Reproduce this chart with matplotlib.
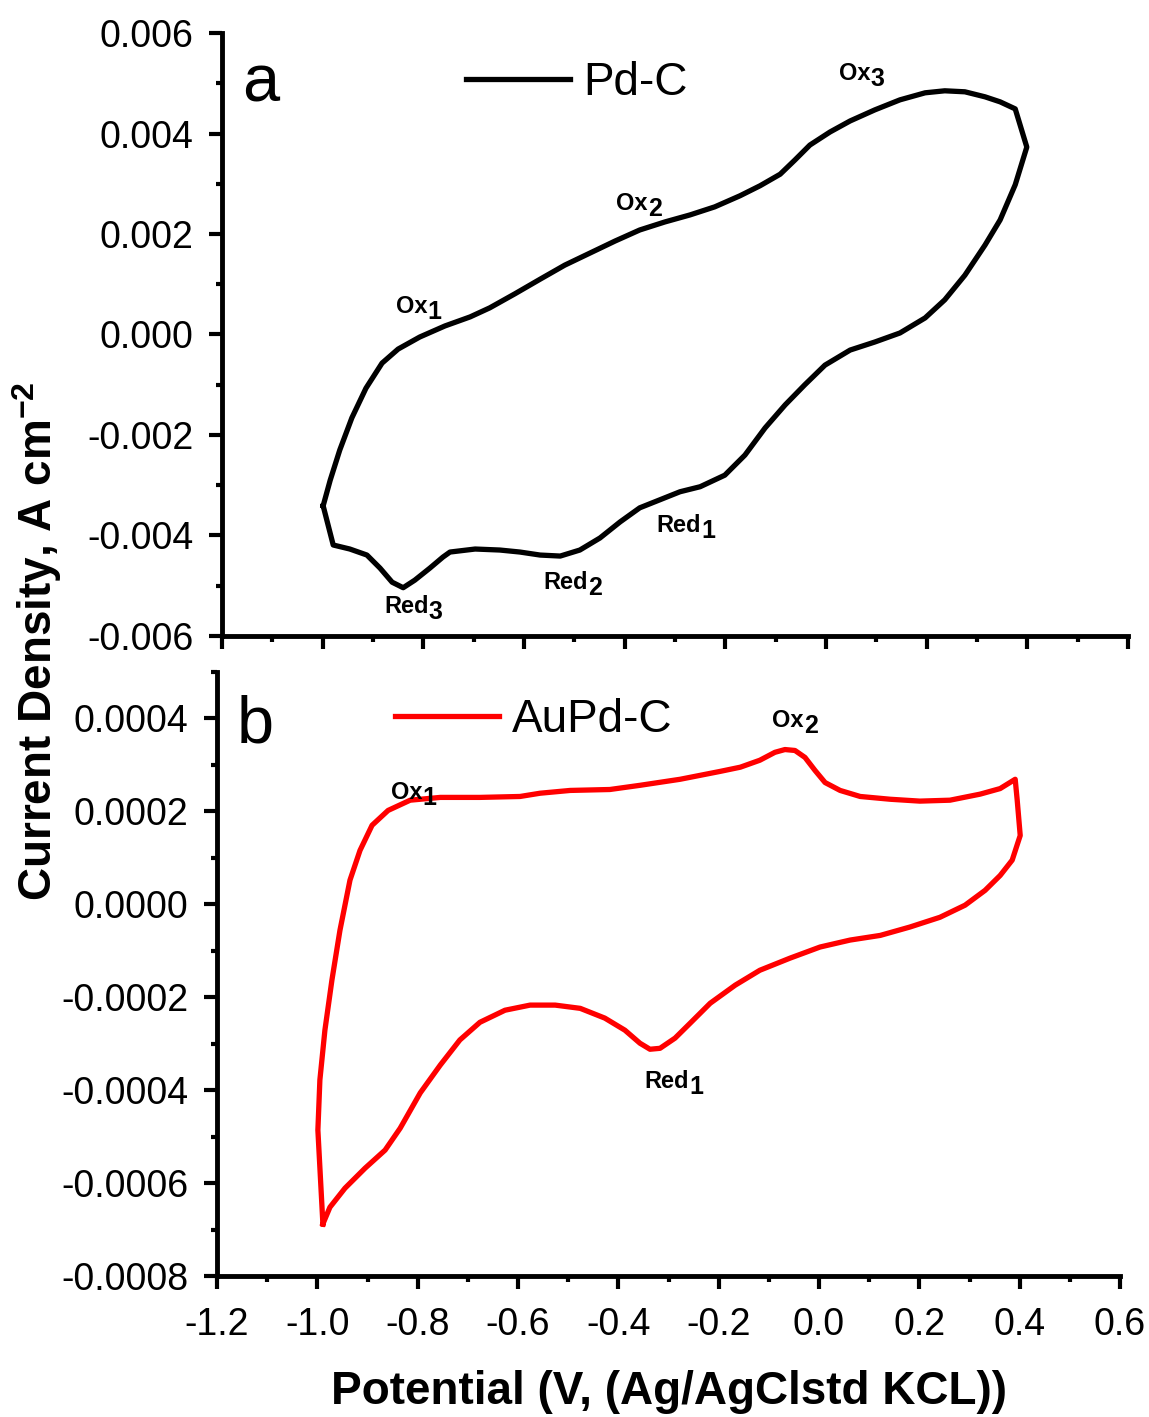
import matplotlib
matplotlib.use("Agg")
import matplotlib.pyplot as plt
from matplotlib.ticker import MultipleLocator, FormatStrFormatter

plt.rcParams['font.family'] = ['Liberation Sans', 'DejaVu Sans']
plt.rcParams['axes.unicode_minus'] = False
plt.rcParams['mathtext.fontset'] = 'custom'
plt.rcParams['mathtext.rm'] = 'Liberation Sans'
plt.rcParams['mathtext.bf'] = 'Liberation Sans:bold'

# Pd-C cyclic voltammogram (V, A cm-2), anodic then cathodic sweep
pdc_v = [-0.999, -0.985, -0.966, -0.942, -0.914, -0.882, -0.850, -0.807, -0.757, -0.707,
         -0.668, -0.618, -0.568, -0.519, -0.469, -0.419, -0.370, -0.320, -0.270, -0.221,
         -0.171, -0.131, -0.091, -0.062, -0.032, 0.008, 0.048, 0.097, 0.147, 0.197,
         0.236, 0.276, 0.316, 0.346, 0.376, 0.399,
         0.376, 0.346, 0.316, 0.276, 0.236, 0.197, 0.147, 0.097, 0.048, -0.002,
         -0.042, -0.081, -0.121, -0.161, -0.201, -0.250, -0.290, -0.330, -0.370, -0.409,
         -0.449, -0.489, -0.528, -0.568, -0.608, -0.648, -0.697, -0.747, -0.761, -0.787,
         -0.817, -0.840, -0.862, -0.886, -0.912, -0.946, -0.979, -0.999]
pdc_j = [-0.00341, -0.00290, -0.00230, -0.00166, -0.00107, -0.00057, -0.00029, -0.00005, 0.00017, 0.00035,
         0.00053, 0.00081, 0.00110, 0.00138, 0.00162, 0.00186, 0.00208, 0.00224, 0.00238, 0.00254,
         0.00276, 0.00296, 0.00319, 0.00347, 0.00377, 0.00403, 0.00425, 0.00447, 0.00467, 0.00481,
         0.00485, 0.00483, 0.00473, 0.00463, 0.00449, 0.00373,
         0.00298, 0.00228, 0.00178, 0.00118, 0.00069, 0.00033, 0.00003, -0.00015, -0.00031, -0.00061,
         -0.00100, -0.00140, -0.00186, -0.00240, -0.00280, -0.00303, -0.00313, -0.00329, -0.00345, -0.00373,
         -0.00405, -0.00429, -0.00441, -0.00439, -0.00433, -0.00429, -0.00427, -0.00433, -0.00443, -0.00465,
         -0.00489, -0.00504, -0.00493, -0.00465, -0.00439, -0.00427, -0.00419, -0.00341]

# AuPd-C cyclic voltammogram
aupd_v = [-0.989, -0.999, -0.995, -0.985, -0.971, -0.955, -0.935, -0.915, -0.891, -0.859,
          -0.815, -0.755, -0.676, -0.596, -0.556, -0.496, -0.417, -0.357, -0.277, -0.197,
          -0.157, -0.118, -0.088, -0.068, -0.048, -0.028, -0.008, 0.012, 0.042, 0.082,
          0.142, 0.201, 0.261, 0.321, 0.361, 0.391, 0.395, 0.401,
          0.385, 0.361, 0.331, 0.291, 0.241, 0.181, 0.122, 0.062, 0.002, -0.058,
          -0.118, -0.167, -0.217, -0.257, -0.287, -0.317, -0.337, -0.357, -0.387, -0.427,
          -0.476, -0.526, -0.576, -0.626, -0.676, -0.716, -0.755, -0.795, -0.835, -0.865,
          -0.905, -0.945, -0.975, -0.989]
aupd_j = [-0.000688, -0.000486, -0.000378, -0.000271, -0.000163, -0.000056, 0.000052, 0.000116, 0.000170, 0.000202,
          0.000224, 0.000230, 0.000230, 0.000232, 0.000239, 0.000245, 0.000247, 0.000256, 0.000269, 0.000286,
          0.000295, 0.000310, 0.000327, 0.000333, 0.000331, 0.000316, 0.000288, 0.000262, 0.000245, 0.000232,
          0.000226, 0.000222, 0.000224, 0.000237, 0.000249, 0.000269, 0.000224, 0.000148,
          0.000095, 0.000062, 0.000030, -0.000002, -0.000028, -0.000049, -0.000067, -0.000077, -0.000092, -0.000116,
          -0.000142, -0.000174, -0.000213, -0.000256, -0.000288, -0.000310, -0.000312, -0.000299, -0.000271, -0.000245,
          -0.000224, -0.000217, -0.000217, -0.000228, -0.000254, -0.000292, -0.000346, -0.000406, -0.000482, -0.000529,
          -0.000568, -0.000611, -0.000652, -0.000688]

# peak labels: (main, subscript, x, y)
pdc_peaks = [("Ox", "1", -0.791, 0.00055), ("Ox", "2", -0.354, 0.0026), ("Ox", "3", 0.089, 0.00520),
             ("Red", "1", -0.248, -0.00381), ("Red", "2", -0.473, -0.00494), ("Red", "3", -0.789, -0.00542)]
aupd_peaks = [("Ox", "1", -0.791, 0.000241), ("Ox", "2", -0.030, 0.000396), ("Red", "1", -0.259, -0.000381)]


def peak_label(ax, main, sub, x, y):
    ax.annotate(main, (x, y), ha='right', va='center', fontsize=17, fontweight='bold')
    ax.annotate(sub, (x, y), xytext=(0, -4), textcoords='offset points',
                ha='left', va='center', fontsize=18, fontweight='bold')


def style(ax):
    for s in ['top', 'right']:
        ax.spines[s].set_visible(False)
    for s in ['left', 'bottom']:
        ax.spines[s].set_linewidth(3.5)
    ax.tick_params(which='major', direction='out', length=9.5, width=3, labelsize=27, pad=11)
    ax.tick_params(axis='x', which='major', pad=13)
    ax.tick_params(which='minor', direction='out', length=4, width=3)
    ax.xaxis.set_major_locator(MultipleLocator(0.2))
    ax.xaxis.set_minor_locator(MultipleLocator(0.1))
    ax.set_xlim(-1.2, 0.6)


fig = plt.figure(figsize=(11.49, 14.17), dpi=100)
ax1 = fig.add_axes([0.1932, 0.5512, 0.7885, 0.4255])
ax2 = fig.add_axes([0.1889, 0.0995, 0.7859, 0.4263])

ax1.plot(pdc_v, pdc_j, color='black', lw=3.8, label='Pd-C', solid_joinstyle='round')
style(ax1)
ax1.set_ylim(-0.006, 0.006)
ax1.yaxis.set_major_locator(MultipleLocator(0.002))
ax1.yaxis.set_minor_locator(MultipleLocator(0.001))
ax1.yaxis.set_major_formatter(FormatStrFormatter('%.3f'))
ax1.tick_params(axis='x', labelbottom=False)
for m, s, x, y in pdc_peaks:
    peak_label(ax1, m, s, x, y)
ax1.text(0.022, 0.8856, 'a', transform=ax1.transAxes, fontsize=48, va='baseline')
ax1.legend(loc='center left', bbox_to_anchor=(0.2693, 0.917), frameon=False, fontsize=33,
           handlelength=2.27, handletextpad=0.28, borderpad=0, borderaxespad=0)

ax2.plot(aupd_v, aupd_j, color='#ff0000', lw=3.8, label='AuPd-C', solid_joinstyle='round')
style(ax2)
ax2.set_ylim(-0.0008, 0.0005)
ax2.yaxis.set_major_locator(MultipleLocator(0.0002))
ax2.yaxis.set_minor_locator(MultipleLocator(0.0001))
ax2.yaxis.set_major_formatter(FormatStrFormatter('%.4f'))
ax2.xaxis.set_major_formatter(FormatStrFormatter('%.1f'))
for m, s, x, y in aupd_peaks:
    peak_label(ax2, m, s, x, y)
ax2.text(0.022, 0.884, 'b', transform=ax2.transAxes, fontsize=48, va='baseline')
ax2.legend(loc='center left', bbox_to_anchor=(0.197, 0.92), frameon=False, fontsize=33,
           handlelength=2.27, handletextpad=0.28, borderpad=0, borderaxespad=0)

fig.text(0.582, 0.0176, 'Potential (V, (Ag/AgClstd KCL))', ha='center', va='center',
         fontsize=33, fontweight='bold')
fig.text(0.032, 1 - 641 / 1417, r'Current Density, A cm$^{\mathbf{-2}}$', ha='center', va='center',
         rotation=90, fontsize=33, fontweight='bold')

fig.savefig('out.png', dpi=100)
